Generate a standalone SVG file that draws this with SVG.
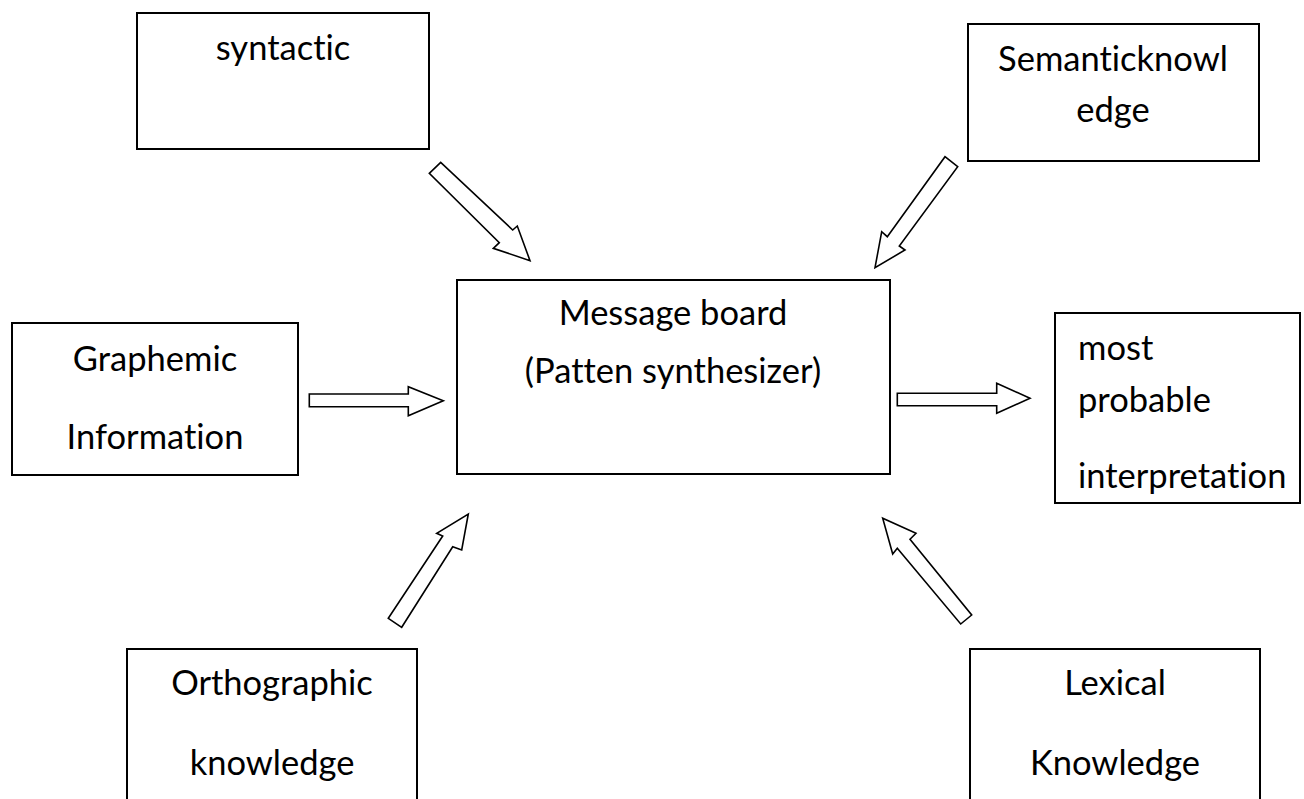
<svg xmlns="http://www.w3.org/2000/svg" width="1304" height="799" viewBox="0 0 1304 799">
<style>
.box{fill:#fff;stroke:#000;stroke-width:2}
.arr{fill:#fff;stroke:#000;stroke-width:1.6;stroke-linejoin:miter}
text{font-family:Lato,"Open Sans","Liberation Sans",sans-serif;font-size:34.5px;fill:#000;font-variant-ligatures:none;font-feature-settings:"liga" 0,"dlig" 0}
.c{text-anchor:middle}
</style>
<rect width="1304" height="799" fill="#fff"/>
<g id="connectors">
<polygon class="arr" points="429.3,173.3 440.7,162.3 512.7,230 517.3,226 530,260.7 493.3,248.3 499.3,242.7"/>
<polygon class="arr" points="945,156.7 957.7,166.7 899.3,246 905,250 875,267.7 881.7,231.7 887.3,236.7"/>
<polygon class="arr" points="309.3,394 408.3,394 408.3,386.7 443.3,400.7 408.3,415.7 408.3,406.7 309.3,406.7"/>
<polygon class="arr" points="897.3,393.3 996.7,393.3 996.7,383.3 1030,398.3 996.7,413.3 996.7,405.7 897.3,405.7"/>
<polygon class="arr" points="388.3,618.3 442.7,536 436.7,533.3 468.3,514 461.7,550 452.7,546.7 401.7,627.3"/>
<polygon class="arr" points="971.7,615 960.7,624 897.3,548.3 892.7,554 882.7,518.3 916,533.3 910,539.3"/>
</g>
<g id="syntactic">
<rect class="box" x="137" y="13" width="292" height="136"/>
<text class="c" x="283" y="60">syntactic</text>
</g>
<g id="semantic">
<rect class="box" x="968" y="24" width="291" height="137"/>
<text class="c" x="1113" y="71">Semanticknowl</text>
<text class="c" x="1113" y="122">edge</text>
</g>
<g id="graphemic">
<rect class="box" x="12" y="323" width="286" height="152"/>
<text class="c" x="155" y="371">Graphemic</text>
<text class="c" x="155" y="449">Information</text>
</g>
<g id="message">
<rect class="box" x="457" y="280" width="433" height="194"/>
<text class="c" x="673" y="325">Message board</text>
<text class="c" x="673" y="383">(Patten synthesizer)</text>
</g>
<g id="probable">
<rect class="box" x="1055" y="313" width="245" height="190"/>
<text x="1078" y="360">most</text>
<text x="1078" y="412">probable</text>
<text x="1078" y="488">interpretation</text>
</g>
<g id="orthographic">
<rect class="box" x="127" y="649" width="290" height="160"/>
<text class="c" x="272" y="695">Orthographic</text>
<text class="c" x="272" y="775">knowledge</text>
</g>
<g id="lexical">
<rect class="box" x="970" y="649" width="290" height="160"/>
<text class="c" x="1115" y="695">Lexical</text>
<text class="c" x="1115" y="775">Knowledge</text>
</g>
</svg>
